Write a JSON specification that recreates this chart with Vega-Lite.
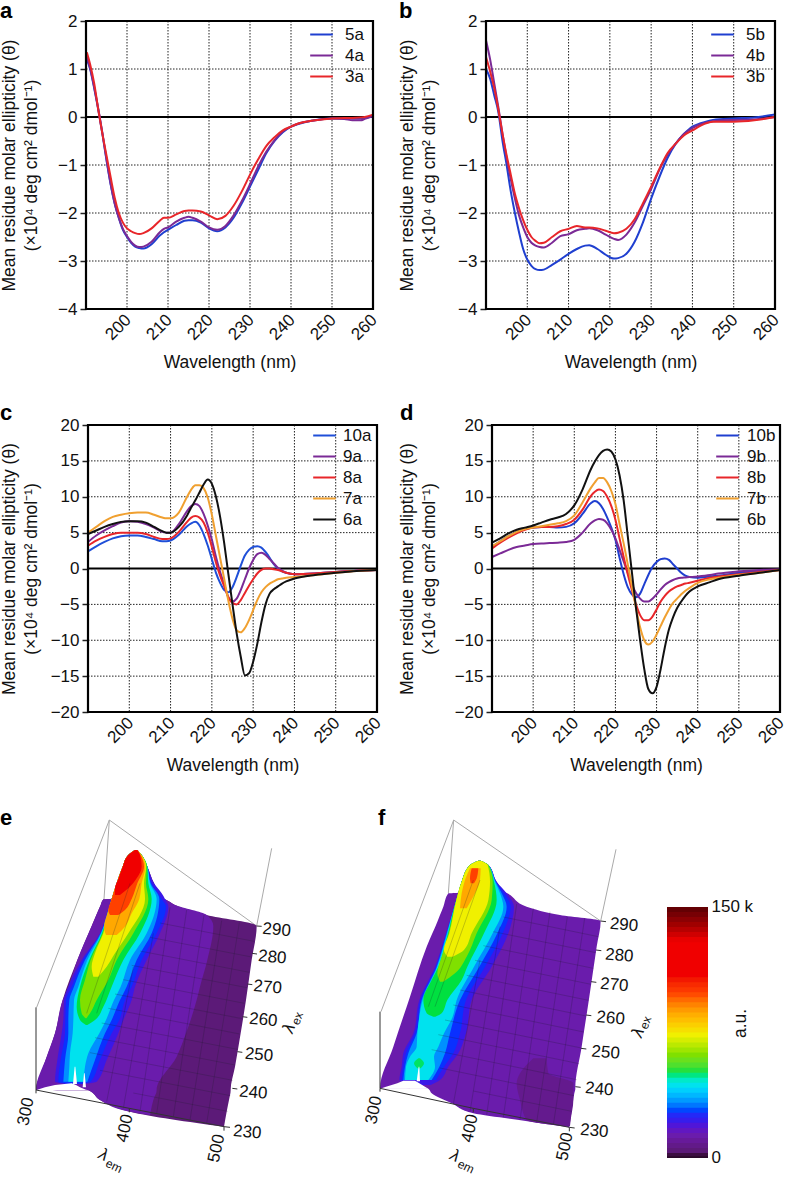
{"$schema":"https://vega.github.io/schema/vega-lite/v6.json","padding":{"left":-1,"top":0,"right":0,"bottom":0},"background":"white","columns":5,"bounds":"flush","spacing":{"row":116,"column":0},
"config":{"font":"Liberation Sans","view":{"stroke":null},"axis":{"labelFontSize":17,"titleFontSize":17.5,"titleFontWeight":"normal","labelColor":"#111","titleColor":"#111","labelOverlap":false},"title":{"fontSize":22,"fontWeight":"bold","anchor":"start","frame":"group","color":"black","baseline":"alphabetic"}},
"datasets":{
"G4":[{"g":-4},{"g":-3},{"g":-2},{"g":-1},{"g":1},{"g":2}],
"G20":[{"g":-20},{"g":-15},{"g":-10},{"g":-5},{"g":5},{"g":10},{"g":15},{"g":20}],
"GX":[{"g":200},{"g":210},{"g":220},{"g":230},{"g":240},{"g":250}],
"A":[{"w":190.2,"5a":1.2,"4a":1.25,"3a":1.35},{"w":191,"5a":1.0,"4a":1.02,"3a":1.1},{"w":192,"5a":0.6,"4a":0.62,"3a":0.7},{"w":193,"5a":0.15,"4a":0.17,"3a":0.15},{"w":194,"5a":-0.35,"4a":-0.33,"3a":-0.35},{"w":195,"5a":-0.9,"4a":-0.88,"3a":-0.8},{"w":196,"5a":-1.4,"4a":-1.38,"3a":-1.25},{"w":197,"5a":-1.8,"4a":-1.8,"3a":-1.68},{"w":198,"5a":-2.1,"4a":-2.1,"3a":-2.0},{"w":199,"5a":-2.35,"4a":-2.33,"3a":-2.2},{"w":200,"5a":-2.5,"4a":-2.48,"3a":-2.32},{"w":201,"5a":-2.62,"4a":-2.6,"3a":-2.38},{"w":202,"5a":-2.7,"4a":-2.68,"3a":-2.42},{"w":203,"5a":-2.73,"4a":-2.71,"3a":-2.44},{"w":204,"5a":-2.74,"4a":-2.7,"3a":-2.42},{"w":206,"5a":-2.65,"4a":-2.6,"3a":-2.32},{"w":208,"5a":-2.47,"4a":-2.4,"3a":-2.16},{"w":209,"5a":-2.4,"4a":-2.33,"3a":-2.1},{"w":210,"5a":-2.35,"4a":-2.3,"3a":-2.1},{"w":212,"5a":-2.25,"4a":-2.18,"3a":-2.03},{"w":214,"5a":-2.16,"4a":-2.1,"3a":-1.96},{"w":215,"5a":-2.15,"4a":-2.08,"3a":-1.95},{"w":216,"5a":-2.15,"4a":-2.1,"3a":-1.95},{"w":218,"5a":-2.2,"4a":-2.18,"3a":-1.97},{"w":220,"5a":-2.32,"4a":-2.3,"3a":-2.05},{"w":222,"5a":-2.38,"4a":-2.35,"3a":-2.13},{"w":224,"5a":-2.3,"4a":-2.27,"3a":-2.06},{"w":226,"5a":-2.1,"4a":-2.05,"3a":-1.85},{"w":228,"5a":-1.8,"4a":-1.75,"3a":-1.55},{"w":230,"5a":-1.45,"4a":-1.4,"3a":-1.2},{"w":232,"5a":-1.1,"4a":-1.03,"3a":-0.88},{"w":234,"5a":-0.75,"4a":-0.72,"3a":-0.6},{"w":236,"5a":-0.5,"4a":-0.48,"3a":-0.42},{"w":238,"5a":-0.32,"4a":-0.3,"3a":-0.28},{"w":240,"5a":-0.2,"4a":-0.2,"3a":-0.2},{"w":242,"5a":-0.14,"4a":-0.13,"3a":-0.13},{"w":245,"5a":-0.08,"4a":-0.08,"3a":-0.08},{"w":250,"5a":-0.03,"4a":-0.03,"3a":-0.03},{"w":253,"5a":-0.03,"4a":-0.04,"3a":-0.02},{"w":255,"5a":-0.03,"4a":-0.07,"3a":-0.02},{"w":257,"5a":-0.03,"4a":-0.07,"3a":-0.01},{"w":258,"5a":-0.02,"4a":-0.04,"3a":0},{"w":260,"5a":0.02,"4a":0.02,"3a":0.05}],
"B":[{"w":190,"5b":1.0,"4b":1.6,"3b":1.25},{"w":191,"5b":0.8,"4b":1.2,"3b":0.95},{"w":192,"5b":0.45,"4b":0.7,"3b":0.6},{"w":193,"5b":0.1,"4b":0.2,"3b":0.15},{"w":194,"5b":-0.5,"4b":-0.35,"3b":-0.35},{"w":195,"5b":-1.0,"4b":-0.85,"3b":-0.8},{"w":196,"5b":-1.55,"4b":-1.3,"3b":-1.2},{"w":197,"5b":-2.0,"4b":-1.7,"3b":-1.6},{"w":198,"5b":-2.4,"4b":-2.05,"3b":-1.9},{"w":199,"5b":-2.75,"4b":-2.3,"3b":-2.15},{"w":200,"5b":-2.97,"4b":-2.5,"3b":-2.35},{"w":201,"5b":-3.1,"4b":-2.62,"3b":-2.5},{"w":202,"5b":-3.17,"4b":-2.68,"3b":-2.58},{"w":203,"5b":-3.19,"4b":-2.71,"3b":-2.63},{"w":204,"5b":-3.18,"4b":-2.72,"3b":-2.62},{"w":206,"5b":-3.08,"4b":-2.62,"3b":-2.5},{"w":208,"5b":-2.97,"4b":-2.48,"3b":-2.38},{"w":210,"5b":-2.85,"4b":-2.44,"3b":-2.33},{"w":212,"5b":-2.75,"4b":-2.36,"3b":-2.27},{"w":214,"5b":-2.68,"4b":-2.33,"3b":-2.3},{"w":215,"5b":-2.67,"4b":-2.32,"3b":-2.3},{"w":217,"5b":-2.75,"4b":-2.36,"3b":-2.32},{"w":219,"5b":-2.87,"4b":-2.45,"3b":-2.37},{"w":221,"5b":-2.95,"4b":-2.54,"3b":-2.42},{"w":222,"5b":-2.94,"4b":-2.56,"3b":-2.41},{"w":224,"5b":-2.85,"4b":-2.45,"3b":-2.33},{"w":226,"5b":-2.6,"4b":-2.2,"3b":-2.13},{"w":228,"5b":-2.2,"4b":-1.85,"3b":-1.8},{"w":230,"5b":-1.7,"4b":-1.5,"3b":-1.45},{"w":232,"5b":-1.25,"4b":-1.1,"3b":-1.08},{"w":234,"5b":-0.85,"4b":-0.78,"3b":-0.75},{"w":236,"5b":-0.55,"4b":-0.55,"3b":-0.55},{"w":238,"5b":-0.35,"4b":-0.35,"3b":-0.38},{"w":240,"5b":-0.2,"4b":-0.23,"3b":-0.28},{"w":242,"5b":-0.13,"4b":-0.15,"3b":-0.18},{"w":245,"5b":-0.06,"4b":-0.09,"3b":-0.1},{"w":250,"5b":-0.03,"4b":-0.06,"3b":-0.1},{"w":255,"5b":-0.01,"4b":-0.05,"3b":-0.07},{"w":260,"5b":0.05,"4b":0,"3b":0}],
"C":[{"w":190,"10a":2.4,"9a":3.7,"8a":3.2,"7a":5,"6a":4.8},{"w":192,"10a":3.1,"9a":4.6,"8a":3.9,"7a":5.8,"6a":5.3},{"w":194,"10a":3.7,"9a":5.3,"8a":4.4,"7a":6.6,"6a":5.8},{"w":196,"10a":4.2,"9a":5.9,"8a":4.8,"7a":7.2,"6a":6.2},{"w":198,"10a":4.5,"9a":6.4,"8a":5,"7a":7.5,"6a":6.5},{"w":200,"10a":4.6,"9a":6.6,"8a":5,"7a":7.7,"6a":6.6},{"w":202,"10a":4.6,"9a":6.5,"8a":5,"7a":7.8,"6a":6.6},{"w":204,"10a":4.4,"9a":6.2,"8a":4.8,"7a":7.8,"6a":6.4},{"w":206,"10a":4.1,"9a":5.7,"8a":4.4,"7a":7.5,"6a":5.8},{"w":208,"10a":3.8,"9a":5.1,"8a":4.1,"7a":7.1,"6a":5.2},{"w":209,"10a":3.8,"9a":5,"8a":4.1,"7a":7,"6a":5},{"w":210,"10a":3.9,"9a":5,"8a":4.2,"7a":7,"6a":5},{"w":212,"10a":4.7,"9a":6.2,"8a":5.1,"7a":7.8,"6a":5.8},{"w":214,"10a":5.9,"9a":8,"8a":6.5,"7a":10,"6a":7.4},{"w":215,"10a":6.3,"9a":8.7,"8a":7.1,"7a":11,"6a":8.5},{"w":216,"10a":6.5,"9a":9,"8a":7.3,"7a":11.6,"6a":9.5},{"w":217,"10a":6,"9a":8.7,"8a":7.1,"7a":11.6,"6a":10.6},{"w":218,"10a":4.8,"9a":7.6,"8a":6.4,"7a":11.2,"6a":11.7},{"w":219,"10a":3.2,"9a":6,"8a":5,"7a":9.9,"6a":12.4},{"w":220,"10a":1.3,"9a":4,"8a":3,"7a":7.5,"6a":11.8},{"w":221,"10a":-0.6,"9a":1.6,"8a":0.8,"7a":4.5,"6a":10},{"w":222,"10a":-2,"9a":-0.5,"8a":-1,"7a":1.5,"6a":7.2},{"w":223,"10a":-3,"9a":-2.2,"8a":-2.5,"7a":-1.5,"6a":3.5},{"w":224,"10a":-3.3,"9a":-4,"8a":-4,"7a":-4.5,"6a":-0.8},{"w":225,"10a":-2.6,"9a":-4.6,"8a":-4.8,"7a":-7,"6a":-5},{"w":226,"10a":-1.2,"9a":-4.2,"8a":-5,"7a":-8.6,"6a":-9},{"w":227,"10a":0.4,"9a":-3,"8a":-4.4,"7a":-8.9,"6a":-12.3},{"w":228,"10a":1.8,"9a":-1.5,"8a":-3.4,"7a":-8.3,"6a":-14.9},{"w":229,"10a":2.6,"9a":0,"8a":-2.4,"7a":-7.2,"6a":-14.6},{"w":230,"10a":3,"9a":1.2,"8a":-1.5,"7a":-5.8,"6a":-13},{"w":231,"10a":3.1,"9a":2,"8a":-0.7,"7a":-4.4,"6a":-10.5},{"w":232,"10a":2.9,"9a":2.2,"8a":-0.2,"7a":-3.3,"6a":-7.5},{"w":233,"10a":2.3,"9a":1.9,"8a":0,"7a":-2.6,"6a":-5},{"w":234,"10a":1.5,"9a":1.3,"8a":0,"7a":-2.1,"6a":-3.5},{"w":235,"10a":0.6,"9a":0.7,"8a":-0.1,"7a":-1.8,"6a":-2.9},{"w":236,"10a":0,"9a":0.1,"8a":-0.2,"7a":-1.5,"6a":-2.5},{"w":237,"10a":-0.4,"9a":-0.3,"8a":-0.4,"7a":-1.4,"6a":-2.1},{"w":238,"10a":-0.6,"9a":-0.6,"8a":-0.6,"7a":-1.3,"6a":-1.8},{"w":240,"10a":-0.8,"9a":-0.8,"8a":-0.8,"7a":-1.2,"6a":-1.4},{"w":245,"10a":-0.7,"9a":-0.7,"8a":-0.7,"7a":-0.9,"6a":-0.9},{"w":250,"10a":-0.5,"9a":-0.5,"8a":-0.5,"7a":-0.6,"6a":-0.6},{"w":255,"10a":-0.3,"9a":-0.3,"8a":-0.3,"7a":-0.35,"6a":-0.35},{"w":260,"10a":-0.2,"9a":-0.2,"8a":-0.2,"7a":-0.2,"6a":-0.2}],
"D":[{"w":190,"10b":3,"9b":1.6,"8b":2.8,"7b":3.1,"6b":3.6},{"w":192,"10b":3.8,"9b":2.1,"8b":3.6,"7b":3.8,"6b":4.2},{"w":194,"10b":4.5,"9b":2.6,"8b":4.3,"7b":4.5,"6b":4.9},{"w":196,"10b":5.1,"9b":3,"8b":4.9,"7b":5.1,"6b":5.4},{"w":198,"10b":5.5,"9b":3.2,"8b":5.4,"7b":5.5,"6b":5.7},{"w":200,"10b":5.7,"9b":3.4,"8b":5.7,"7b":5.7,"6b":6},{"w":202,"10b":5.8,"9b":3.5,"8b":5.8,"7b":5.9,"6b":6.4},{"w":204,"10b":5.8,"9b":3.55,"8b":5.8,"7b":6.1,"6b":6.8},{"w":206,"10b":5.7,"9b":3.6,"8b":5.9,"7b":6.3,"6b":7.1},{"w":208,"10b":5.8,"9b":3.7,"8b":6.2,"7b":6.6,"6b":7.6},{"w":210,"10b":6.3,"9b":4,"8b":6.8,"7b":7.4,"6b":8.8},{"w":212,"10b":7.6,"9b":5,"8b":8.2,"7b":9.2,"6b":11},{"w":214,"10b":9.1,"9b":6.3,"8b":10.1,"7b":11.2,"6b":13.8},{"w":215,"10b":9.4,"9b":6.7,"8b":10.7,"7b":12,"6b":14.9},{"w":216,"10b":9.1,"9b":6.9,"8b":11,"7b":12.6,"6b":15.8},{"w":217,"10b":8.3,"9b":6.8,"8b":10.8,"7b":12.6,"6b":16.4},{"w":218,"10b":7.1,"9b":6.3,"8b":10,"7b":12,"6b":16.6},{"w":219,"10b":5.7,"9b":5.4,"8b":8.7,"7b":10.8,"6b":16.3},{"w":220,"10b":4,"9b":4.2,"8b":6.8,"7b":9,"6b":15.2},{"w":221,"10b":1.5,"9b":2.6,"8b":4.2,"7b":6.2,"6b":13},{"w":222,"10b":-0.8,"9b":1,"8b":1.6,"7b":3.5,"6b":9.5},{"w":223,"10b":-2.6,"9b":-0.6,"8b":-0.8,"7b":0.6,"6b":4.5},{"w":224,"10b":-3.6,"9b":-2.2,"8b":-3,"7b":-2.5,"6b":-0.5},{"w":225,"10b":-4,"9b":-3.4,"8b":-5,"7b":-5.5,"6b":-5.5},{"w":226,"10b":-3.5,"9b":-4.2,"8b":-6.5,"7b":-8.2,"6b":-10},{"w":227,"10b":-2.2,"9b":-4.6,"8b":-7.2,"7b":-10,"6b":-14},{"w":228,"10b":-0.9,"9b":-4.6,"8b":-7.2,"7b":-10.6,"6b":-16.8},{"w":229,"10b":0.2,"9b":-4.2,"8b":-6.7,"7b":-10.2,"6b":-17.4},{"w":230,"10b":0.9,"9b":-3.6,"8b":-5.7,"7b":-9.2,"6b":-16.5},{"w":231,"10b":1.3,"9b":-2.9,"8b":-4.6,"7b":-8,"6b":-14},{"w":232,"10b":1.4,"9b":-2.3,"8b":-3.8,"7b":-6.8,"6b":-11},{"w":233,"10b":1.2,"9b":-1.9,"8b":-3.2,"7b":-5.7,"6b":-8.5},{"w":234,"10b":0.6,"9b":-1.6,"8b":-2.8,"7b":-4.8,"6b":-6.8},{"w":235,"10b":0,"9b":-1.4,"8b":-2.5,"7b":-4.2,"6b":-5.5},{"w":236,"10b":-0.6,"9b":-1.3,"8b":-2.3,"7b":-3.6,"6b":-4.6},{"w":237,"10b":-1,"9b":-1.25,"8b":-2.1,"7b":-3.1,"6b":-3.8},{"w":238,"10b":-1.2,"9b":-1.2,"8b":-2,"7b":-2.7,"6b":-3.2},{"w":240,"10b":-1.3,"9b":-1.1,"8b":-1.7,"7b":-2,"6b":-2.5},{"w":243,"10b":-1.1,"9b":-0.9,"8b":-1.3,"7b":-1.5,"6b":-1.9},{"w":245,"10b":-1,"9b":-0.7,"8b":-1.1,"7b":-1.3,"6b":-1.5},{"w":250,"10b":-0.6,"9b":-0.4,"8b":-0.8,"7b":-0.9,"6b":-1},{"w":255,"10b":-0.4,"9b":-0.2,"8b":-0.5,"7b":-0.6,"6b":-0.6},{"w":260,"10b":-0.2,"9b":-0.1,"8b":-0.2,"7b":-0.2,"6b":-0.2}],
"E":[{"v":3,"y":150,"x":405,"x2":412},{"v":3,"y":165,"x":385,"x2":425},{"v":3,"y":200,"x":368,"x2":442},{"v":3,"y":250,"x":350,"x2":462},{"v":3,"y":296,"x":335,"x2":490},{"v":3,"y":298,"x":310,"x2":495},{"v":3,"y":315,"x":302,"x2":525},{"v":3,"y":345,"x":289,"x2":620},{"v":3,"y":378,"x":275,"x2":770},{"v":3,"y":480,"x":232,"x2":755},{"v":3,"y":600,"x":188,"x2":738},{"v":3,"y":700,"x":165,"x2":722},{"v":3,"y":800,"x":130,"x2":705},{"v":3,"y":870,"x":108,"x2":692},{"v":3,"y":871,"x":265,"x2":692},{"v":3,"y":900,"x":300,"x2":687},{"v":3,"y":935,"x":390,"x2":680},{"v":3,"y":980,"x":672,"x2":672},
{"v":12,"y":150,"x":405,"x2":412},{"v":12,"y":165,"x":385,"x2":425},{"v":12,"y":200,"x":368,"x2":442},{"v":12,"y":250,"x":350,"x2":462},{"v":12,"y":296,"x":335,"x2":490},{"v":12,"y":298,"x":310,"x2":495},{"v":12,"y":315,"x":302,"x2":525},{"v":12,"y":345,"x":289,"x2":620},{"v":12,"y":378,"x":275,"x2":640},{"v":12,"y":480,"x":232,"x2":622},{"v":12,"y":560,"x":205,"x2":600},{"v":12,"y":600,"x":188,"x2":590},{"v":12,"y":700,"x":165,"x2":558},{"v":12,"y":770,"x":140,"x2":530},{"v":12,"y":870,"x":108,"x2":470},{"v":12,"y":871,"x":265,"x2":470},{"v":12,"y":900,"x":300,"x2":460},{"v":12,"y":935,"x":390,"x2":452},{"v":12,"y":945,"x":450,"x2":450},
{"v":20,"y":150,"x":405,"x2":412},{"v":20,"y":165,"x":385,"x2":425},{"v":20,"y":200,"x":368,"x2":442},{"v":20,"y":250,"x":350,"x2":462},{"v":20,"y":280,"x":340,"x2":485},{"v":20,"y":297,"x":335,"x2":495},{"v":20,"y":320,"x":327,"x2":505},{"v":20,"y":400,"x":300,"x2":480},{"v":20,"y":480,"x":245,"x2":440},{"v":20,"y":560,"x":205,"x2":405},{"v":20,"y":600,"x":192,"x2":395},{"v":20,"y":660,"x":190,"x2":370},{"v":20,"y":700,"x":185,"x2":355},{"v":20,"y":780,"x":172,"x2":320},{"v":20,"y":845,"x":165,"x2":290},{"v":20,"y":852,"x":200,"x2":250},
{"v":26,"y":150,"x":405,"x2":412},{"v":26,"y":165,"x":385,"x2":425},{"v":26,"y":200,"x":368,"x2":442},{"v":26,"y":250,"x":350,"x2":455},{"v":26,"y":297,"x":335,"x2":485},{"v":26,"y":320,"x":327,"x2":498},{"v":26,"y":400,"x":301,"x2":470},{"v":26,"y":480,"x":250,"x2":425},{"v":26,"y":560,"x":215,"x2":395},{"v":26,"y":600,"x":198,"x2":375},{"v":26,"y":660,"x":196,"x2":358},{"v":26,"y":700,"x":195,"x2":335},{"v":26,"y":780,"x":182,"x2":300},{"v":26,"y":845,"x":175,"x2":272},{"v":26,"y":851,"x":205,"x2":245},
{"v":32,"y":150,"x":405,"x2":412},{"v":32,"y":165,"x":385,"x2":425},{"v":32,"y":200,"x":368,"x2":442},{"v":32,"y":250,"x":350,"x2":452},{"v":32,"y":297,"x":335,"x2":478},{"v":32,"y":400,"x":302,"x2":455},{"v":32,"y":480,"x":255,"x2":410},{"v":32,"y":560,"x":222,"x2":380},{"v":32,"y":600,"x":208,"x2":360},{"v":32,"y":660,"x":205,"x2":335},{"v":32,"y":700,"x":205,"x2":315},{"v":32,"y":780,"x":195,"x2":285},{"v":32,"y":845,"x":190,"x2":262},
{"v":42,"y":150,"x":405,"x2":412},{"v":42,"y":165,"x":385,"x2":425},{"v":42,"y":200,"x":368,"x2":442},{"v":42,"y":250,"x":350,"x2":450},{"v":42,"y":297,"x":335,"x2":470},{"v":42,"y":400,"x":304,"x2":440},{"v":42,"y":480,"x":262,"x2":390},{"v":42,"y":560,"x":235,"x2":362},{"v":42,"y":600,"x":222,"x2":342},{"v":42,"y":660,"x":220,"x2":318},{"v":42,"y":700,"x":218,"x2":298},{"v":42,"y":760,"x":210,"x2":265},{"v":42,"y":800,"x":208,"x2":255},{"v":42,"y":845,"x":205,"x2":250},
{"v":50,"y":150,"x":405,"x2":412},{"v":50,"y":165,"x":385,"x2":425},{"v":50,"y":200,"x":368,"x2":442},{"v":50,"y":250,"x":350,"x2":445},{"v":50,"y":297,"x":335,"x2":455},{"v":50,"y":400,"x":306,"x2":420},{"v":50,"y":480,"x":268,"x2":370},{"v":50,"y":560,"x":240,"x2":335},{"v":50,"y":620,"x":230,"x2":310},{"v":50,"y":660,"x":240,"x2":285},{"v":50,"y":675,"x":258,"x2":262},
{"v":60,"y":150,"x":405,"x2":412},{"v":60,"y":165,"x":385,"x2":425},{"v":60,"y":200,"x":368,"x2":440},{"v":60,"y":250,"x":350,"x2":438},{"v":60,"y":297,"x":335,"x2":445},{"v":60,"y":400,"x":308,"x2":400},{"v":60,"y":480,"x":272,"x2":350},{"v":60,"y":540,"x":255,"x2":325},{"v":60,"y":600,"x":240,"x2":290},{"v":60,"y":640,"x":245,"x2":270},{"v":60,"y":655,"x":257,"x2":259},
{"v":72,"y":150,"x":405,"x2":412},{"v":72,"y":165,"x":385,"x2":425},{"v":72,"y":200,"x":368,"x2":438},{"v":72,"y":250,"x":350,"x2":432},{"v":72,"y":297,"x":335,"x2":435},{"v":72,"y":400,"x":310,"x2":385},{"v":72,"y":460,"x":285,"x2":345},{"v":72,"y":500,"x":275,"x2":320},{"v":72,"y":530,"x":280,"x2":295},
{"v":85,"y":150,"x":405,"x2":412},{"v":85,"y":165,"x":385,"x2":424},{"v":85,"y":200,"x":368,"x2":436},{"v":85,"y":250,"x":350,"x2":425},{"v":85,"y":297,"x":335,"x2":418},{"v":85,"y":340,"x":322,"x2":395},{"v":85,"y":380,"x":312,"x2":375},{"v":85,"y":405,"x":318,"x2":350},
{"v":97,"y":150,"x":405,"x2":412},{"v":97,"y":165,"x":385,"x2":422},{"v":97,"y":200,"x":368,"x2":432},{"v":97,"y":250,"x":350,"x2":412},{"v":97,"y":297,"x":335,"x2":395},{"v":97,"y":330,"x":325,"x2":375},{"v":97,"y":345,"x":330,"x2":355},
{"v":107,"y":150,"x":405,"x2":412},{"v":107,"y":165,"x":385,"x2":420},{"v":107,"y":200,"x":368,"x2":425},{"v":107,"y":235,"x":356,"x2":410},{"v":107,"y":265,"x":345,"x2":385},{"v":107,"y":285,"x":345,"x2":360}],
"F":[{"v":12,"y":182,"x":355,"x2":362},{"v":12,"y":195,"x":330,"x2":385},{"v":12,"y":245,"x":305,"x2":410},{"v":12,"y":278,"x":295,"x2":438},{"v":12,"y":280,"x":265,"x2":442},{"v":12,"y":320,"x":250,"x2":500},{"v":12,"y":345,"x":240,"x2":600},{"v":12,"y":363,"x":233,"x2":722},{"v":12,"y":440,"x":200,"x2":710},{"v":12,"y":590,"x":150,"x2":688},{"v":12,"y":740,"x":100,"x2":665},{"v":12,"y":865,"x":60,"x2":646},{"v":12,"y":866,"x":205,"x2":646},{"v":12,"y":880,"x":215,"x2":643},{"v":12,"y":910,"x":275,"x2":638},{"v":12,"y":940,"x":340,"x2":634},{"v":12,"y":960,"x":477,"x2":631},{"v":12,"y":982,"x":628,"x2":628},
{"v":7,"y":775,"x":520,"x2":560},{"v":7,"y":820,"x":480,"x2":565},{"v":7,"y":850,"x":470,"x2":640},{"v":7,"y":900,"x":480,"x2":640},{"v":7,"y":960,"x":500,"x2":632},{"v":7,"y":978,"x":610,"x2":630},
{"v":20,"y":182,"x":355,"x2":362},{"v":20,"y":195,"x":330,"x2":385},{"v":20,"y":245,"x":305,"x2":410},{"v":20,"y":280,"x":295,"x2":440},{"v":20,"y":320,"x":283,"x2":462},{"v":20,"y":400,"x":258,"x2":445},{"v":20,"y":500,"x":225,"x2":395},{"v":20,"y":600,"x":178,"x2":335},{"v":20,"y":700,"x":160,"x2":318},{"v":20,"y":760,"x":130,"x2":295},{"v":20,"y":800,"x":125,"x2":265},{"v":20,"y":840,"x":118,"x2":240},{"v":20,"y":855,"x":165,"x2":212},
{"v":26,"y":182,"x":355,"x2":362},{"v":26,"y":195,"x":330,"x2":385},{"v":26,"y":245,"x":305,"x2":408},{"v":26,"y":280,"x":295,"x2":432},{"v":26,"y":320,"x":283,"x2":452},{"v":26,"y":400,"x":259,"x2":428},{"v":26,"y":500,"x":228,"x2":375},{"v":26,"y":600,"x":182,"x2":318},{"v":26,"y":700,"x":165,"x2":300},{"v":26,"y":760,"x":138,"x2":280},{"v":26,"y":800,"x":130,"x2":252},{"v":26,"y":840,"x":125,"x2":228},
{"v":32,"y":182,"x":355,"x2":362},{"v":32,"y":195,"x":330,"x2":385},{"v":32,"y":245,"x":305,"x2":407},{"v":32,"y":280,"x":295,"x2":425},{"v":32,"y":320,"x":283,"x2":440},{"v":32,"y":400,"x":260,"x2":412},{"v":32,"y":500,"x":230,"x2":358},{"v":32,"y":600,"x":185,"x2":300},{"v":32,"y":700,"x":170,"x2":270},{"v":32,"y":760,"x":145,"x2":255},{"v":32,"y":800,"x":135,"x2":238},{"v":32,"y":840,"x":130,"x2":215},
{"v":42,"y":182,"x":355,"x2":362},{"v":42,"y":195,"x":330,"x2":385},{"v":42,"y":245,"x":305,"x2":405},{"v":42,"y":280,"x":295,"x2":420},{"v":42,"y":320,"x":283,"x2":430},{"v":42,"y":400,"x":262,"x2":398},{"v":42,"y":500,"x":232,"x2":342},{"v":42,"y":600,"x":188,"x2":290},{"v":42,"y":650,"x":178,"x2":278},{"v":42,"y":700,"x":172,"x2":252},{"v":42,"y":740,"x":170,"x2":235},{"v":42,"y":770,"x":150,"x2":222},{"v":42,"y":800,"x":138,"x2":225},{"v":42,"y":840,"x":135,"x2":205},
{"v":49,"y":775,"x":175,"x2":180},{"v":49,"y":790,"x":162,"x2":192},{"v":49,"y":805,"x":172,"x2":182},
{"v":50,"y":182,"x":355,"x2":362},{"v":50,"y":195,"x":330,"x2":385},{"v":50,"y":245,"x":305,"x2":402},{"v":50,"y":300,"x":289,"x2":410},{"v":50,"y":400,"x":264,"x2":372},{"v":50,"y":500,"x":235,"x2":322},{"v":50,"y":540,"x":215,"x2":305},{"v":50,"y":600,"x":190,"x2":262},{"v":50,"y":640,"x":200,"x2":245},{"v":50,"y":650,"x":220,"x2":226},
{"v":60,"y":182,"x":355,"x2":362},{"v":60,"y":195,"x":330,"x2":385},{"v":60,"y":245,"x":305,"x2":398},{"v":60,"y":300,"x":289,"x2":395},{"v":60,"y":400,"x":266,"x2":350},{"v":60,"y":470,"x":245,"x2":320},{"v":60,"y":520,"x":232,"x2":285},{"v":60,"y":545,"x":240,"x2":250},
{"v":72,"y":182,"x":355,"x2":362},{"v":72,"y":195,"x":330,"x2":383},{"v":72,"y":245,"x":305,"x2":390},{"v":72,"y":300,"x":289,"x2":385},{"v":72,"y":400,"x":268,"x2":335},{"v":72,"y":450,"x":252,"x2":312},{"v":72,"y":470,"x":262,"x2":278},
{"v":85,"y":205,"x":330,"x2":362},{"v":85,"y":240,"x":315,"x2":360},{"v":85,"y":280,"x":305,"x2":345},{"v":85,"y":325,"x":300,"x2":320},
{"v":97,"y":205,"x":335,"x2":355},{"v":97,"y":235,"x":330,"x2":350},{"v":97,"y":250,"x":332,"x2":342}]
},
"concat":[
{"width":86,"height":288,"data":{"values":[]},"mark":"rect"},
{"width":291,"height":288,"title":{"text":"a","dx":-86,"offset":-11},"layer":[
{"data":{"name":"GX"},"mark":{"type":"rule","stroke":"#222","strokeDash":[1.5,1.5],"strokeWidth":1},"encoding":{"x":{"field":"g","type":"quantitative","scale":{"domain":[190,260],"nice":false,"range":[0,287]}}}},
{"data":{"name":"G4"},"mark":{"type":"rule","stroke":"#222","strokeDash":[1.5,1.5],"strokeWidth":1},"encoding":{"y":{"field":"g","type":"quantitative"},"x":{"datum":190,"type":"quantitative"},"x2":{"datum":260}}},
{"data":{"values":[{"z":0}]},"mark":{"type":"rule","stroke":"black","strokeWidth":2.2},"encoding":{"y":{"field":"z","type":"quantitative"},"x":{"datum":190,"type":"quantitative"},"x2":{"datum":260}}},
{"data":{"name":"A"},"transform":[{"fold":["5a","4a","3a"],"as":["series","value"]}],"mark":{"type":"line","strokeWidth":2,"interpolate":"monotone"},"encoding":{"x":{"field":"w","type":"quantitative","scale":{"domain":[190,260],"nice":false,"range":[0,287]},"axis":{"values":[200,210,220,230,240,250,260],"grid":false,"domain":false,"tickSize":0,"labelAngle":-45,"labelAlign":"right","labelBaseline":"middle","labelPadding":8,"labelOffset":1,"title":"Wavelength (nm)","titlePadding":11,"titleX":143.5}},"y":{"field":"value","type":"quantitative","scale":{"domain":[-4,2],"nice":false},"axis":{"values":[-4,-3,-2,-1,0,1,2],"format":"d","grid":false,"domain":false,"tickSize":6,"tickWidth":1.5,"tickColor":"#222","labelPadding":3,"title":["Mean residue molar ellipticity (θ)","(×10⁴ deg cm² dmol⁻¹)"],"titleX":-68,"titleLineHeight":22}},"color":{"field":"series","type":"nominal","sort":["5a","4a","3a"],"scale":{"domain":["5a","4a","3a"],"range":["#1f3fd0","#7b2a96","#e8262a"]},"legend":{"orient":"none","legendX":223,"legendY":1,"title":null,"symbolType":"stroke","symbolSize":512,"symbolStrokeWidth":2,"labelFontSize":17,"labelOffset":11,"rowPadding":0,"labelColor":"#111"}}}},
{"data":{"values":[{"x":190,"x2":260,"y":-4,"y2":2}]},"mark":{"type":"rect","fill":null,"stroke":"black","strokeWidth":2.2},"encoding":{"x":{"field":"x","type":"quantitative"},"x2":{"field":"x2"},"y":{"field":"y","type":"quantitative"},"y2":{"field":"y2"}}}
]},
{"width":109,"height":288,"data":{"values":[]},"mark":"rect"},
{"width":294,"height":288,"title":{"text":"b","dx":-87,"offset":-11},"layer":[
{"data":{"name":"GX"},"mark":{"type":"rule","stroke":"#222","strokeDash":[1.5,1.5],"strokeWidth":1},"encoding":{"x":{"field":"g","type":"quantitative","scale":{"domain":[190,260],"nice":false,"range":[0,289]}}}},
{"data":{"name":"G4"},"mark":{"type":"rule","stroke":"#222","strokeDash":[1.5,1.5],"strokeWidth":1},"encoding":{"y":{"field":"g","type":"quantitative"},"x":{"datum":190,"type":"quantitative"},"x2":{"datum":260}}},
{"data":{"values":[{"z":0}]},"mark":{"type":"rule","stroke":"black","strokeWidth":2.2},"encoding":{"y":{"field":"z","type":"quantitative"},"x":{"datum":190,"type":"quantitative"},"x2":{"datum":260}}},
{"data":{"name":"B"},"transform":[{"fold":["5b","4b","3b"],"as":["series","value"]}],"mark":{"type":"line","strokeWidth":2,"interpolate":"monotone"},"encoding":{"x":{"field":"w","type":"quantitative","scale":{"domain":[190,260],"nice":false,"range":[0,289]},"axis":{"values":[200,210,220,230,240,250,260],"grid":false,"domain":false,"tickSize":0,"labelAngle":-45,"labelAlign":"right","labelBaseline":"middle","labelPadding":8,"labelOffset":1,"title":"Wavelength (nm)","titlePadding":11,"titleX":144.5}},"y":{"field":"value","type":"quantitative","scale":{"domain":[-4,2],"nice":false},"axis":{"values":[-4,-3,-2,-1,0,1,2],"format":"d","grid":false,"domain":false,"tickSize":6,"tickWidth":1.5,"tickColor":"#222","labelPadding":3,"title":["Mean residue molar ellipticity (θ)","(×10⁴ deg cm² dmol⁻¹)"],"titleX":-70,"titleLineHeight":22}},"color":{"field":"series","type":"nominal","sort":["5b","4b","3b"],"scale":{"domain":["5b","4b","3b"],"range":["#1f3fd0","#7b2a96","#e8262a"]},"legend":{"orient":"none","legendX":224,"legendY":1,"title":null,"symbolType":"stroke","symbolSize":512,"symbolStrokeWidth":2,"labelFontSize":17,"labelOffset":11,"rowPadding":0,"labelColor":"#111"}}}},
{"data":{"values":[{"x":190,"x2":260,"y":-4,"y2":2}]},"mark":{"type":"rect","fill":null,"stroke":"black","strokeWidth":2.2},"encoding":{"x":{"field":"x","type":"quantitative"},"x2":{"field":"x2"},"y":{"field":"y","type":"quantitative"},"y2":{"field":"y2"}}}
]},
{"width":1,"height":288,"data":{"values":[]},"mark":"rect"},
{"width":86,"height":287,"data":{"values":[]},"mark":"rect"},
{"width":291,"height":287,"title":{"text":"c","dx":-86,"offset":-9},"layer":[
{"data":{"name":"GX"},"mark":{"type":"rule","stroke":"#222","strokeDash":[1.5,1.5],"strokeWidth":1},"encoding":{"x":{"field":"g","type":"quantitative","scale":{"domain":[190,260],"nice":false,"range":[2,291]}}}},
{"data":{"name":"G20"},"mark":{"type":"rule","stroke":"#222","strokeDash":[1.5,1.5],"strokeWidth":1},"encoding":{"y":{"field":"g","type":"quantitative","axis":{"values":[-20,-15,-10,-5,0,5,10,15,20]}},"x":{"datum":190,"type":"quantitative"},"x2":{"datum":260}}},
{"data":{"values":[{"z":0}]},"mark":{"type":"rule","stroke":"black","strokeWidth":2.2},"encoding":{"y":{"field":"z","type":"quantitative","axis":{"values":[-20,-15,-10,-5,0,5,10,15,20]}},"x":{"datum":190,"type":"quantitative"},"x2":{"datum":260}}},
{"data":{"name":"C"},"transform":[{"fold":["10a","9a","8a","7a","6a"],"as":["series","value"]}],"mark":{"type":"line","strokeWidth":2,"interpolate":"monotone"},"encoding":{"x":{"field":"w","type":"quantitative","scale":{"domain":[190,260],"nice":false,"range":[2,291]},"axis":{"values":[200,210,220,230,240,250,260],"grid":false,"domain":false,"tickSize":0,"labelAngle":-45,"labelAlign":"right","labelBaseline":"middle","labelPadding":8,"labelOffset":1,"title":"Wavelength (nm)","titlePadding":11,"titleX":146.5}},"y":{"field":"value","type":"quantitative","scale":{"domain":[-20,20],"nice":false},"axis":{"values":[-20,-15,-10,-5,0,5,10,15,20],"format":"d","grid":false,"domain":false,"offset":-2,"tickSize":6,"tickWidth":1.5,"tickColor":"#222","labelPadding":3,"title":["Mean residue molar ellipticity (θ)","(×10⁴ deg cm² dmol⁻¹)"],"titleX":-70,"titleLineHeight":22}},"color":{"field":"series","type":"nominal","sort":["10a","9a","8a","7a","6a"],"scale":{"domain":["10a","9a","8a","7a","6a"],"range":["#1f4fd8","#7b2a96","#e8262a","#f0a030","#111111"]},"legend":{"orient":"none","legendX":226,"legendY":-2,"title":null,"symbolType":"stroke","symbolSize":512,"symbolStrokeWidth":2,"labelFontSize":17,"labelOffset":6,"rowPadding":0,"labelColor":"#111"}}}},
{"data":{"values":[{"x":190,"x2":260,"y":-20,"y2":20}]},"mark":{"type":"rect","fill":null,"stroke":"black","strokeWidth":2.2},"encoding":{"x":{"field":"x","type":"quantitative"},"x2":{"field":"x2"},"y":{"field":"y","type":"quantitative","axis":{"values":[-20,-15,-10,-5,0,5,10,15,20]}},"y2":{"field":"y2"}}}
]},
{"width":109,"height":287,"data":{"values":[]},"mark":"rect"},
{"width":294,"height":287,"title":{"text":"d","dx":-86,"offset":-9},"layer":[
{"data":{"name":"GX"},"mark":{"type":"rule","stroke":"#222","strokeDash":[1.5,1.5],"strokeWidth":1},"encoding":{"x":{"field":"g","type":"quantitative","scale":{"domain":[190,260],"nice":false,"range":[6,294]}}}},
{"data":{"name":"G20"},"mark":{"type":"rule","stroke":"#222","strokeDash":[1.5,1.5],"strokeWidth":1},"encoding":{"y":{"field":"g","type":"quantitative","axis":{"values":[-20,-15,-10,-5,0,5,10,15,20]}},"x":{"datum":190,"type":"quantitative"},"x2":{"datum":260}}},
{"data":{"values":[{"z":0}]},"mark":{"type":"rule","stroke":"black","strokeWidth":2.2},"encoding":{"y":{"field":"z","type":"quantitative","axis":{"values":[-20,-15,-10,-5,0,5,10,15,20]}},"x":{"datum":190,"type":"quantitative"},"x2":{"datum":260}}},
{"data":{"name":"D"},"transform":[{"fold":["10b","9b","8b","7b","6b"],"as":["series","value"]}],"mark":{"type":"line","strokeWidth":2,"interpolate":"monotone"},"encoding":{"x":{"field":"w","type":"quantitative","scale":{"domain":[190,260],"nice":false,"range":[6,294]},"axis":{"values":[200,210,220,230,240,250,260],"grid":false,"domain":false,"tickSize":0,"labelAngle":-45,"labelAlign":"right","labelBaseline":"middle","labelPadding":8,"labelOffset":1,"title":"Wavelength (nm)","titlePadding":11,"titleX":150}},"y":{"field":"value","type":"quantitative","scale":{"domain":[-20,20],"nice":false},"axis":{"values":[-20,-15,-10,-5,0,5,10,15,20],"format":"d","grid":false,"domain":false,"offset":-6,"tickSize":6,"tickWidth":1.5,"tickColor":"#222","labelPadding":3,"title":["Mean residue molar ellipticity (θ)","(×10⁴ deg cm² dmol⁻¹)"],"titleX":-76,"titleLineHeight":22}},"color":{"field":"series","type":"nominal","sort":["10b","9b","8b","7b","6b"],"scale":{"domain":["10b","9b","8b","7b","6b"],"range":["#1f3fd0","#7b2a96","#e8262a","#f0a030","#111111"]},"legend":{"orient":"none","legendX":229,"legendY":-2,"title":null,"symbolType":"stroke","symbolSize":512,"symbolStrokeWidth":2,"labelFontSize":17,"labelOffset":7,"rowPadding":0,"labelColor":"#111"}}}},
{"data":{"values":[{"x":190,"x2":260,"y":-20,"y2":20}]},"mark":{"type":"rect","fill":null,"stroke":"black","strokeWidth":2.2},"encoding":{"x":{"field":"x","type":"quantitative"},"x2":{"field":"x2"},"y":{"field":"y","type":"quantitative","axis":{"values":[-20,-15,-10,-5,0,5,10,15,20]}},"y2":{"field":"y2"}}}
]},
{"width":1,"height":287,"data":{"values":[]},"mark":"rect"},
{"width":86,"height":351,"title":{"text":"e","dx":0,"offset":-12},
"encoding":{"x":{"field":"x","type":"quantitative","axis":null,"scale":{"domain":[0,258],"nice":false,"zero":false}},"y":{"field":"y","type":"quantitative","axis":null,"scale":{"domain":[84,1137],"reverse":true,"nice":false,"zero":false}}},
"layer":[
{"data":{"values":[{"g":1,"x":110,"y":622},{"g":1,"x":328,"y":60},{"g":1,"x":815,"y":145},{"g":1,"x":770,"y":378},{"g":2,"x":328,"y":60},{"g":2,"x":312,"y":297}]},"mark":{"type":"line","stroke":"#aaaaaa","strokeWidth":1},"encoding":{"detail":{"field":"g"}}},
{"data":{"name":"E"},"mark":{"type":"area","orient":"horizontal","interpolate":"monotone"},"encoding":{"x2":{"field":"x2"},"detail":{"field":"v"},"color":{"field":"v","type":"quantitative","legend":null,"scale":{"domain":[0,3,12,20,26,32,38,43,50,60,72,85,97,107,128,138,150],"range":["#2a0a2a","#5c1a78","#6a1cac","#3a18e8","#0a30ff","#0090ff","#00c8ff","#00e8e8","#00e040","#80e000","#f0f000","#ffa800","#ff4000","#f00000","#f00000","#a00000","#500000"]}}}},
{"data":{"values":[{"g":1,"y":850,"x":215,"x2":215},{"g":1,"y":855,"x":165,"x2":228},{"g":1,"y":862,"x":135,"x2":240},{"g":1,"y":869,"x":112,"x2":258},{"g":1,"y":871,"x":108,"x2":265},{"g":2,"y":800,"x":224,"x2":226},{"g":2,"y":852,"x":219,"x2":231},{"g":3,"y":820,"x":252,"x2":254},{"g":3,"y":862,"x":248,"x2":258}]},"mark":{"type":"area","orient":"horizontal","color":"white"},"encoding":{"x2":{"field":"x2"},"detail":{"field":"g"}}},
{"data":{"values":[{"g":1,"x":762,"y":424},{"g":1,"x":480,"y":369},{"g":2,"x":755,"y":471},{"g":2,"x":450,"y":412},{"g":3,"x":748,"y":517},{"g":3,"x":420,"y":453},{"g":4,"x":741,"y":563},{"g":4,"x":395,"y":496},{"g":5,"x":733,"y":610},{"g":5,"x":370,"y":539},{"g":6,"x":726,"y":656},{"g":6,"x":345,"y":582},{"g":7,"x":719,"y":702},{"g":7,"x":325,"y":625},{"g":8,"x":712,"y":748},{"g":8,"x":305,"y":669},{"g":9,"x":705,"y":795},{"g":9,"x":285,"y":713},{"g":10,"x":698,"y":841},{"g":10,"x":270,"y":758},{"g":11,"x":691,"y":887},{"g":11,"x":300,"y":811},{"g":12,"x":683,"y":934},{"g":12,"x":400,"y":879},{"g":13,"x":620,"y":970},{"g":13,"x":718,"y":368},{"g":14,"x":570,"y":960},{"g":14,"x":665,"y":362},{"g":15,"x":520,"y":950},{"g":15,"x":612,"y":345},{"g":16,"x":470,"y":941},{"g":16,"x":560,"y":330},{"g":17,"x":420,"y":935},{"g":17,"x":510,"y":322},{"g":18,"x":370,"y":925},{"g":18,"x":460,"y":400},{"g":19,"x":320,"y":905},{"g":19,"x":400,"y":500},{"g":20,"x":390,"y":250},{"g":20,"x":260,"y":640},{"g":21,"x":420,"y":250},{"g":21,"x":290,"y":640}]},"mark":{"type":"line","stroke":"#1a1a2a","strokeWidth":0.5,"opacity":0.45},"encoding":{"detail":{"field":"g"}}},
{"data":{"values":[{"g":1,"x":108,"y":622},{"g":1,"x":108,"y":870},{"g":1,"x":388,"y":925},{"g":1,"x":672,"y":980},{"g":2,"x":108,"y":870},{"g":2,"x":108,"y":880},{"g":3,"x":388,"y":925},{"g":3,"x":388,"y":937},{"g":4,"x":672,"y":980},{"g":4,"x":672,"y":992},{"g":5,"x":672,"y":980},{"g":5,"x":690,"y":982},{"g":6,"x":697,"y":865},{"g":6,"x":712,"y":867},{"g":7,"x":712,"y":755},{"g":7,"x":727,"y":757},{"g":8,"x":727,"y":650},{"g":8,"x":742,"y":652},{"g":9,"x":742,"y":552},{"g":9,"x":757,"y":554},{"g":10,"x":756,"y":460},{"g":10,"x":771,"y":462},{"g":11,"x":770,"y":378},{"g":11,"x":785,"y":379}]},"mark":{"type":"line","stroke":"#333333","strokeWidth":1},"encoding":{"detail":{"field":"g"}}},
{"data":{"values":[{"t":"290","x":830,"y":390},{"t":"280","x":817,"y":472},{"t":"270","x":803,"y":562},{"t":"260","x":790,"y":660},{"t":"250","x":777,"y":765},{"t":"240","x":760,"y":878},{"t":"230","x":742,"y":997}]},"mark":{"type":"text","fontSize":17,"angle":5,"color":"#111"},"encoding":{"text":{"field":"t"}}},
{"data":{"values":[{"t":"300","x":78,"y":935},{"t":"400","x":375,"y":985},{"t":"500","x":650,"y":1045}]},"mark":{"type":"text","fontSize":17,"angle":-78,"color":"#111"},"encoding":{"text":{"field":"t"}}},
{"data":{"values":[{"t":"λ","x":310,"y":1065}]},"mark":{"type":"text","fontSize":17,"angle":25,"fontStyle":"italic","color":"#111"},"encoding":{"text":{"field":"t"}}},
{"data":{"values":[{"t":"em","x":342,"y":1098}]},"mark":{"type":"text","fontSize":12,"angle":25,"color":"#111"},"encoding":{"text":{"field":"t"}}},
{"data":{"values":[{"t":"λ","x":868,"y":685}]},"mark":{"type":"text","fontSize":17,"angle":-70,"fontStyle":"italic","color":"#111"},"encoding":{"text":{"field":"t"}}},
{"data":{"values":[{"t":"ex","x":892,"y":655}]},"mark":{"type":"text","fontSize":12,"angle":-70,"color":"#111"},"encoding":{"text":{"field":"t"}}}
]},
{"width":291,"height":351,"data":{"values":[]},"mark":"rect"},
{"width":109,"height":351,"title":{"text":"f","dx":1,"offset":-12},
"encoding":{"x":{"field":"x","type":"quantitative","axis":null,"scale":{"domain":[51,378],"nice":false,"zero":false}},"y":{"field":"y","type":"quantitative","axis":null,"scale":{"domain":[84,1137],"reverse":true,"nice":false,"zero":false}}},
"layer":[
{"data":{"values":[{"g":1,"x":63,"y":635},{"g":1,"x":281,"y":60},{"g":1,"x":768,"y":148},{"g":1,"x":722,"y":363},{"g":2,"x":281,"y":60},{"g":2,"x":265,"y":280}]},"mark":{"type":"line","stroke":"#aaaaaa","strokeWidth":1},"encoding":{"detail":{"field":"g"}}},
{"data":{"name":"F"},"mark":{"type":"area","orient":"horizontal","interpolate":"monotone"},"encoding":{"x2":{"field":"x2"},"detail":{"field":"v"},"color":{"field":"v","type":"quantitative","legend":null,"scale":{"domain":[0,3,12,20,26,32,38,43,50,60,72,85,97,107,128,138,150],"range":["#2a0a2a","#5c1a78","#6a1cac","#3a18e8","#0a30ff","#0090ff","#00c8ff","#00e8e8","#00e040","#80e000","#f0f000","#ffa800","#ff4000","#f00000","#f00000","#a00000","#500000"]}}}},
{"data":{"values":[{"g":1,"y":842,"x":130,"x2":165},{"g":1,"y":850,"x":112,"x2":178},{"g":1,"y":860,"x":78,"x2":195},{"g":1,"y":866,"x":60,"x2":205},{"g":2,"y":800,"x":176,"x2":178},{"g":2,"y":844,"x":170,"x2":180}]},"mark":{"type":"area","orient":"horizontal","color":"white"},"encoding":{"x2":{"field":"x2"},"detail":{"field":"g"}}},
{"data":{"values":[{"g":1,"x":715,"y":410},{"g":1,"x":430,"y":351},{"g":2,"x":708,"y":458},{"g":2,"x":400,"y":395},{"g":3,"x":700,"y":505},{"g":3,"x":370,"y":437},{"g":4,"x":693,"y":553},{"g":4,"x":345,"y":481},{"g":5,"x":686,"y":601},{"g":5,"x":320,"y":526},{"g":6,"x":678,"y":648},{"g":6,"x":300,"y":570},{"g":7,"x":671,"y":696},{"g":7,"x":280,"y":615},{"g":8,"x":664,"y":744},{"g":8,"x":255,"y":660},{"g":9,"x":657,"y":791},{"g":9,"x":235,"y":704},{"g":10,"x":650,"y":839},{"g":10,"x":215,"y":749},{"g":11,"x":642,"y":887},{"g":11,"x":240,"y":804},{"g":12,"x":635,"y":934},{"g":12,"x":340,"y":873},{"g":13,"x":580,"y":975},{"g":13,"x":674,"y":355},{"g":14,"x":530,"y":967},{"g":14,"x":622,"y":350},{"g":15,"x":480,"y":960},{"g":15,"x":570,"y":335},{"g":16,"x":430,"y":952},{"g":16,"x":520,"y":325},{"g":17,"x":380,"y":945},{"g":17,"x":470,"y":312},{"g":18,"x":330,"y":935},{"g":18,"x":420,"y":380},{"g":19,"x":280,"y":912},{"g":19,"x":360,"y":480},{"g":20,"x":360,"y":240},{"g":20,"x":225,"y":620},{"g":21,"x":340,"y":240},{"g":21,"x":205,"y":620}]},"mark":{"type":"line","stroke":"#1a1a2a","strokeWidth":0.5,"opacity":0.45},"encoding":{"detail":{"field":"g"}}},
{"data":{"values":[{"g":1,"x":60,"y":635},{"g":1,"x":60,"y":865},{"g":1,"x":340,"y":925},{"g":1,"x":628,"y":982},{"g":2,"x":60,"y":865},{"g":2,"x":60,"y":875},{"g":3,"x":340,"y":925},{"g":3,"x":340,"y":937},{"g":4,"x":628,"y":982},{"g":4,"x":628,"y":994},{"g":5,"x":628,"y":982},{"g":5,"x":644,"y":984},{"g":6,"x":646,"y":860},{"g":6,"x":662,"y":862},{"g":7,"x":663,"y":745},{"g":7,"x":679,"y":747},{"g":8,"x":678,"y":645},{"g":8,"x":694,"y":647},{"g":9,"x":693,"y":545},{"g":9,"x":709,"y":547},{"g":10,"x":708,"y":450},{"g":10,"x":724,"y":452},{"g":11,"x":722,"y":363},{"g":11,"x":738,"y":365}]},"mark":{"type":"line","stroke":"#333333","strokeWidth":1},"encoding":{"detail":{"field":"g"}}},
{"data":{"values":[{"t":"290","x":792,"y":375},{"t":"280","x":778,"y":467},{"t":"270","x":763,"y":555},{"t":"260","x":752,"y":655},{"t":"250","x":737,"y":758},{"t":"240","x":718,"y":868},{"t":"230","x":703,"y":993}]},"mark":{"type":"text","fontSize":17,"angle":5,"color":"#111"},"encoding":{"text":{"field":"t"}}},
{"data":{"values":[{"t":"300","x":42,"y":930},{"t":"400","x":330,"y":985},{"t":"500","x":615,"y":1040}]},"mark":{"type":"text","fontSize":17,"angle":-78,"color":"#111"},"encoding":{"text":{"field":"t"}}},
{"data":{"values":[{"t":"λ","x":285,"y":1068}]},"mark":{"type":"text","fontSize":17,"angle":25,"fontStyle":"italic","color":"#111"},"encoding":{"text":{"field":"t"}}},
{"data":{"values":[{"t":"em","x":318,"y":1100}]},"mark":{"type":"text","fontSize":12,"angle":25,"color":"#111"},"encoding":{"text":{"field":"t"}}},
{"data":{"values":[{"t":"λ","x":835,"y":698}]},"mark":{"type":"text","fontSize":17,"angle":-70,"fontStyle":"italic","color":"#111"},"encoding":{"text":{"field":"t"}}},
{"data":{"values":[{"t":"ex","x":857,"y":668}]},"mark":{"type":"text","fontSize":12,"angle":-70,"color":"#111"},"encoding":{"text":{"field":"t"}}}
]},
{"width":294,"height":351,
"data":{"values":[{"v":0,"v2":1.5},{"v":1,"v2":4},{"v":3,"v2":7},{"v":6,"v2":10},{"v":9,"v2":13},{"v":12,"v2":16},{"v":15,"v2":19},{"v":18,"v2":22},{"v":21,"v2":25},{"v":24,"v2":28},{"v":27,"v2":31},{"v":30,"v2":34},{"v":33,"v2":37},{"v":36,"v2":40},{"v":39,"v2":43},{"v":42,"v2":46},{"v":45,"v2":49},{"v":48,"v2":52},{"v":51,"v2":55},{"v":54,"v2":58},{"v":57,"v2":61},{"v":60,"v2":64},{"v":63,"v2":67},{"v":66,"v2":70},{"v":69,"v2":73},{"v":72,"v2":76},{"v":75,"v2":79},{"v":78,"v2":82},{"v":81,"v2":85},{"v":84,"v2":88},{"v":87,"v2":91},{"v":90,"v2":94},{"v":93,"v2":97},{"v":96,"v2":100},{"v":99,"v2":103},{"v":102,"v2":106},{"v":105,"v2":109},{"v":108,"v2":112},{"v":111,"v2":115},{"v":114,"v2":118},{"v":117,"v2":121},{"v":120,"v2":124},{"v":123,"v2":127},{"v":126,"v2":130},{"v":129,"v2":133},{"v":132,"v2":136},{"v":135,"v2":139},{"v":138,"v2":142},{"v":141,"v2":145},{"v":144,"v2":148},{"v":147,"v2":150}]},
"mark":{"type":"rect"},
"encoding":{"x":{"datum":0,"type":"quantitative","scale":{"domain":[0,1],"range":[181,222]},"axis":null},"x2":{"datum":1},"y":{"field":"v","type":"quantitative","scale":{"domain":[-12.55,197.2],"nice":false,"zero":false},"axis":{"orient":"right","offset":-72,"values":[0,150],"labelExpr":"datum.value==150?'150 k':'0'","ticks":false,"domain":false,"grid":false,"labelPadding":3,"title":"a.u.","titleAngle":-90,"titleY":195,"titleX":41,"titleBaseline":"bottom"}},"y2":{"field":"v2"},"color":{"field":"v","type":"quantitative","legend":null,"scale":{"domain":[0,3,12,20,26,32,38,43,50,60,72,85,97,107,128,138,150],"range":["#2a0a2a","#5c1a78","#6a1cac","#3a18e8","#0a30ff","#0090ff","#00c8ff","#00e8e8","#00e040","#80e000","#f0f000","#ffa800","#ff4000","#f00000","#f00000","#a00000","#500000"]}}}},
{"width":1,"height":351,"data":{"values":[]},"mark":"rect"}
]}
